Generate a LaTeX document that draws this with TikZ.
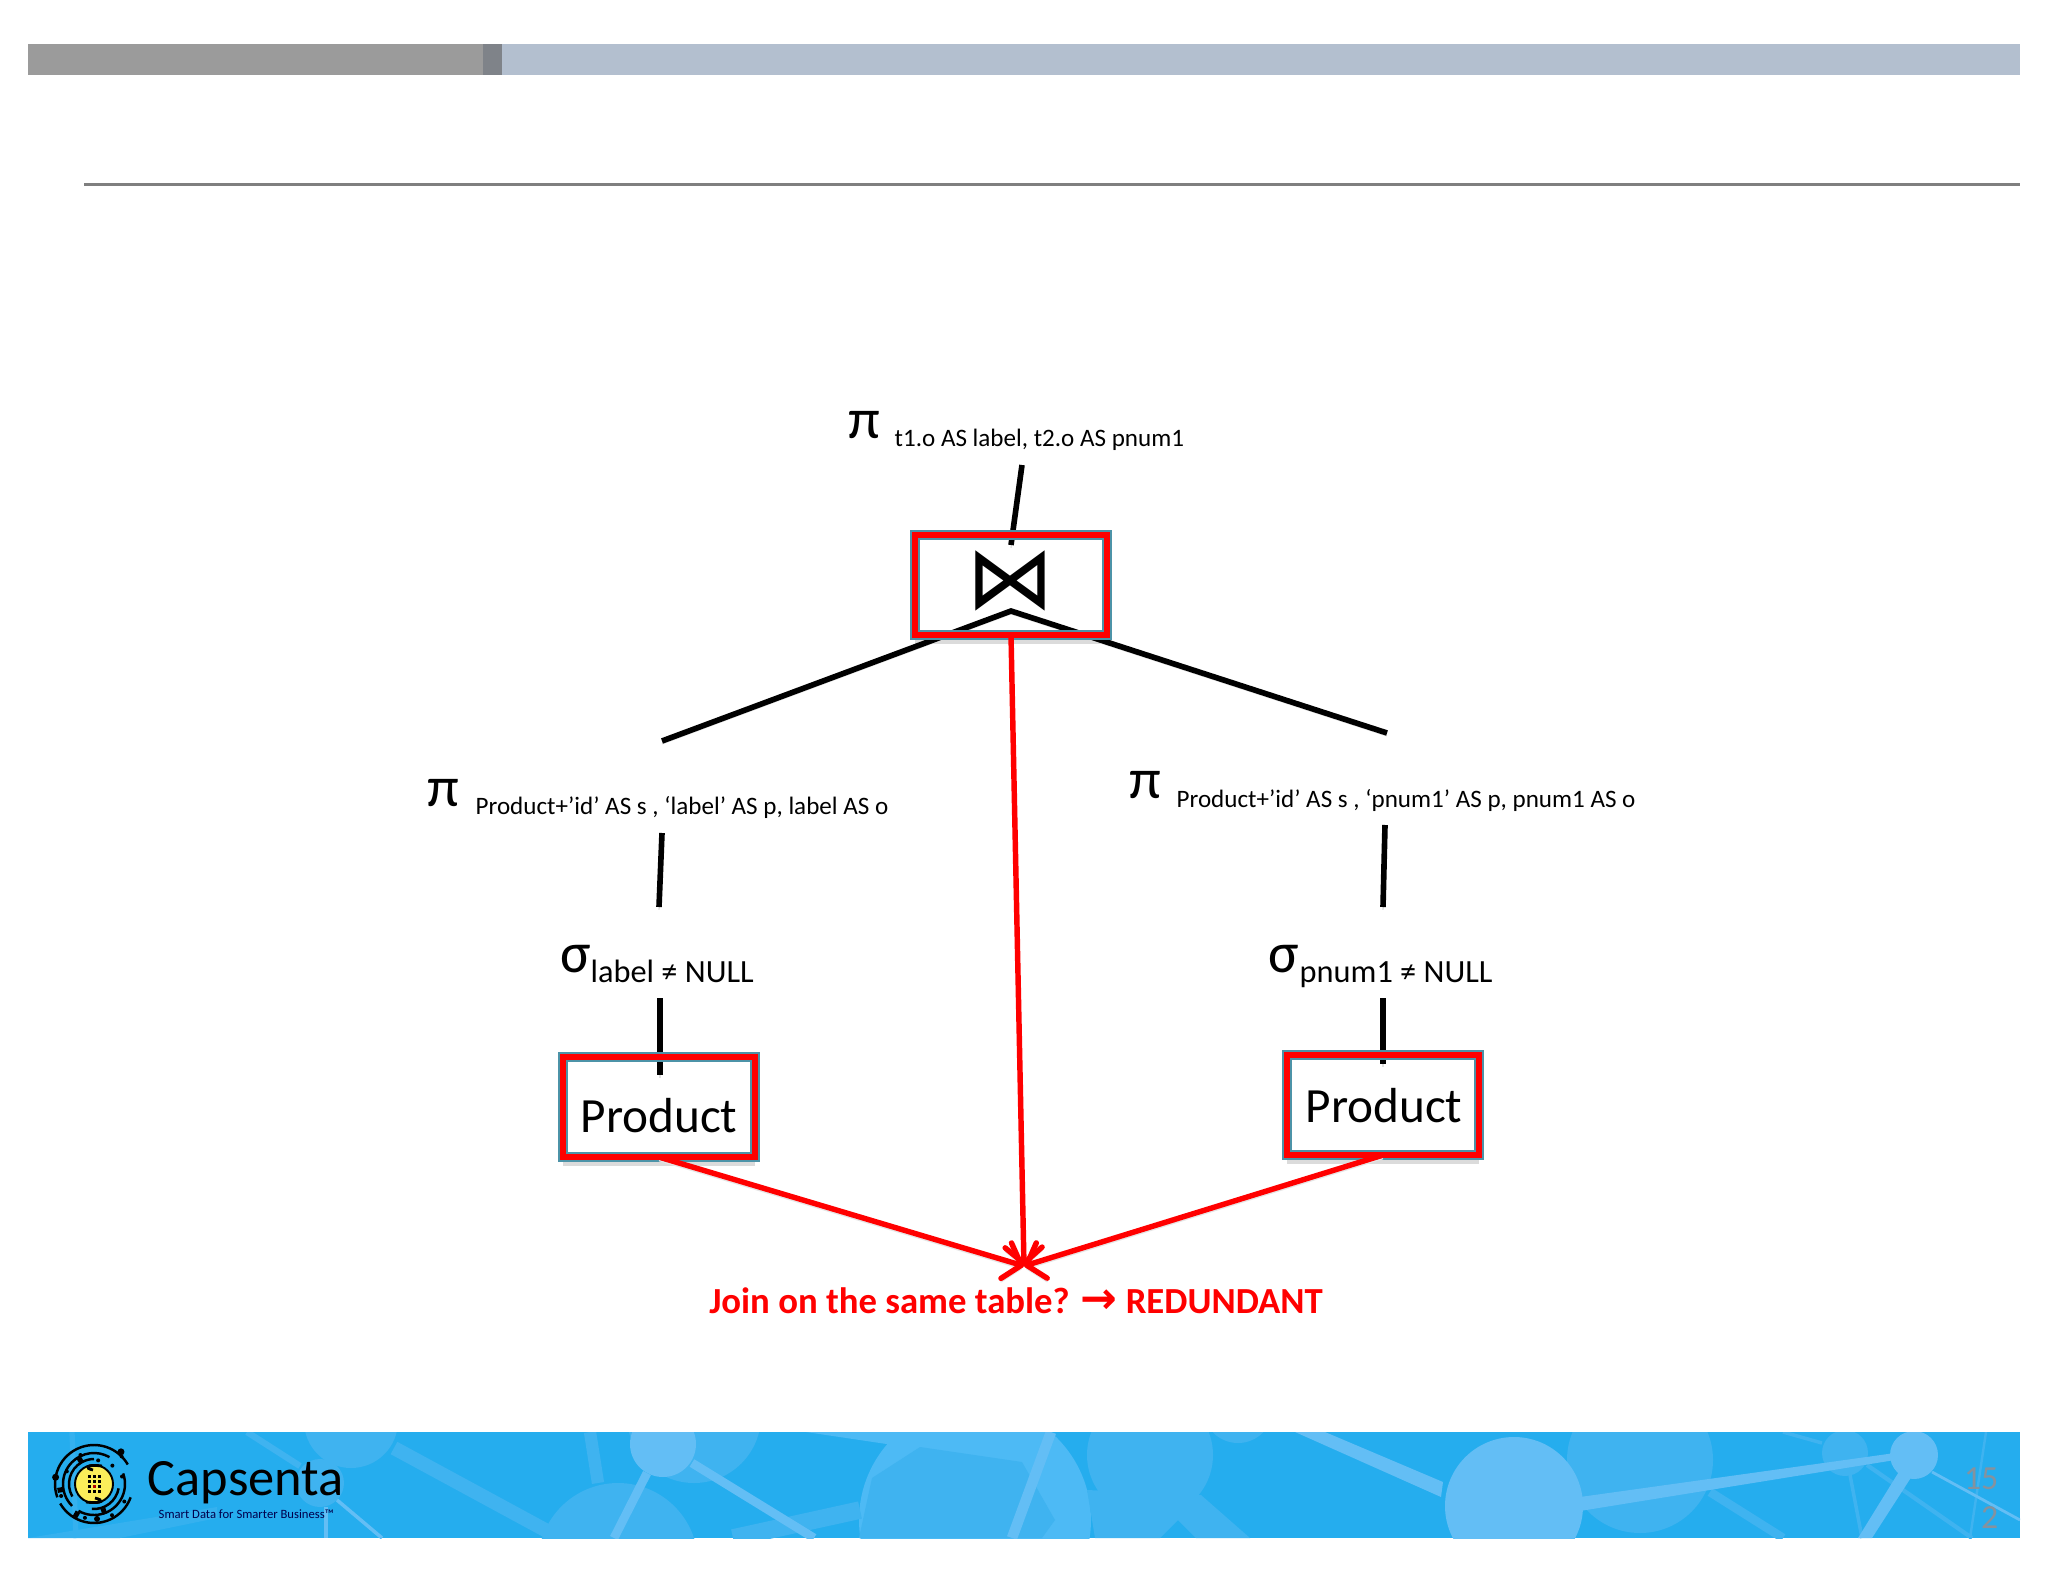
\documentclass[tikz,border=0pt]{standalone}
\usepackage{fontspec}
\setmainfont{Carlito}
\newfontfamily\symfont{DejaVu Sans}
\usetikzlibrary{arrows.meta,shadows}
\definecolor{barGrey}{HTML}{9B9B9B}
\definecolor{barDark}{HTML}{7F8389}
\definecolor{barBlue}{HTML}{B3BFCF}
\definecolor{ruleGrey}{HTML}{7F7F7F}
\definecolor{frameTeal}{HTML}{4C93A8}
\definecolor{footBase}{HTML}{25ADEE}
\definecolor{footMid}{HTML}{3FB3F0}
\definecolor{footSoft}{HTML}{4DBAF5}
\definecolor{footLight}{HTML}{63BEF5}
\definecolor{pageGrey}{HTML}{85929E}
\definecolor{logoYellow}{HTML}{FBEE5A}
\tikzstyle{boxbase} = [fill=white, minimum width=1.92cm, minimum height=1cm, outer sep=0pt, inner sep=0pt, drop shadow={shadow xshift=0pt, shadow yshift=-2.5pt, opacity=0.28}]
\tikzstyle{boxframe} = [draw=frameTeal, double=red, double distance=1.6pt, line width=0.7pt, minimum width=1.92cm, minimum height=1cm, outer sep=0pt, inner sep=0pt]
\tikzstyle{edge} = [line width=1.6pt, preaction={draw=black!12, transform canvas={yshift=-0.8pt}}]
\tikzstyle{rededge} = [red, line width=1.55pt, line cap=round, -{Straight Barb[length=4.5pt, width=10.5pt, round]}, preaction={draw=black!10, transform canvas={yshift=-1pt}}]
\tikzstyle{opsym} = [anchor=base west, inner sep=0pt, font=\fontsize{16.3}{18}\selectfont]
\tikzstyle{projsub} = [anchor=base west, inner sep=0pt, font=\fontsize{7.13}{9}\selectfont]
\tikzstyle{selsub} = [anchor=base west, inner sep=0pt, font=\fontsize{9.2}{11}\selectfont]
\tikzstyle{prodtext} = [anchor=base, inner sep=0pt, font=\fontsize{14}{16}\selectfont]

\begin{document}
\begin{tikzpicture}[x=0.01cm,y=-0.01cm]
	\useasboundingbox (0,0) rectangle (2048,1582);
	\fill[white] (0,0) rectangle (2048,1582);
	% top bar
	\fill[barGrey] (28,44) rectangle (483,75);
	\fill[barDark] (483,44) rectangle (502,75);
	\fill[barBlue] (502,44) rectangle (2020,75);
	\fill[ruleGrey] (84,183) rectangle (2020,186);
	% footer
	\begin{scope}
		\clip (28,1432) rectangle (2020,1538);
		\fill[footBase] (28,1432) rectangle (2020,1538);
		\draw[footMid!60!footBase,line width=1.5pt] (72,1432) -- (76,1538);
		\fill[footMid!60!footBase] (28,1538) -- (217,1507) -- (217,1518) -- (120,1538) -- cycle;
		\fill[footSoft] (975,1520) circle (116);
		\fill[footSoft] (806,1432) -- (900,1432) -- (900,1446) -- cycle;
		\fill[footMid] (859,1538) -- (872,1478) -- (920,1447) -- (1022,1462) -- (1055,1520) -- (1042,1538) -- cycle;
		\foreach \cx/\cy/\rad in {351/1421/47,320/1483/24,618/1563/80,694/1416/67,1150/1455/63,1238/1408/35,1640/1460/73,1845/1453/23}
			\fill[footMid] (\cx,\cy) circle (\rad);
		\fill[footMid] (1087,1490) -- (1095,1538) -- (1160,1538) -- (1178,1520) -- (1196,1538) -- (1250,1538) -- (1201,1495) -- cycle;
		\foreach \ax/\ay/\bx/\by/\wd in {247/1432/300/1466/1.8,394/1448/560/1538/4,590/1432/598/1483/3.5,733/1538/860/1510/5,1710/1492/1783/1538/2.5,1867/1465/1972/1538/1.2,1850/1475/1862/1538/1,1986/1432/1970/1538/0.7,1783/1432/1822/1443/1}
			\draw[footMid,line width=\wd pt] (\ax,\ay) -- (\bx,\by);
		\foreach \cx/\cy/\rad in {663/1444/33,1514/1506/69,1914/1455/24}
			\fill[footLight] (\cx,\cy) circle (\rad);
		\foreach \ax/\ay/\bx/\by/\wd in {337/1500/382/1538/1,326/1507/326/1538/1,647/1473/614/1538/2.5,692/1463/814/1538/2.5,1051/1432/1012/1538/3,1932/1472/2020/1520/0.8}
			\draw[footLight,line width=\wd pt] (\ax,\ay) -- (\bx,\by);
		\fill[footLight] (1295,1432) -- (1325,1432) -- (1443,1482) -- (1441,1497) -- cycle;
		\fill[footLight] (1580,1497) -- (1895,1453) -- (1895,1460) -- (1580,1511) -- cycle;
		\fill[footLight] (1900,1470) -- (1912,1476) -- (1872,1538) -- (1858,1538) -- cycle;
	\end{scope}
	% logo
	\begin{scope}[shift={(94,1484)}]
		\draw[line width=0.7pt] (20:39) arc (20:150:39);
		\draw[line width=0.7pt] (160:39) arc (160:330:39);
		\draw[line width=0.7pt] (-20:31) arc (-20:120:31);
		\draw[line width=0.7pt] (135:31) arc (135:300:31);
		\draw[line width=0.7pt] (10:25) arc (10:95:25);
		\draw[line width=0.7pt] (150:25) arc (150:270:25);
		\foreach \ang/\rad in {60/36,105/35,160/35,30/35,205/30,315/39,345/29,245/32,280/24,-45/26}
			\fill (\ang:\rad) circle (2);
		\foreach \ang/\rad in {120/27,190/34,-70/29,-120/35}
			\fill[rotate=\ang] (\rad-3,-2.5) rectangle (\rad+3,2.5);
		\fill (-50:42) circle (3.5);
		\fill (190:39) circle (3.5);
		\fill (85:35) circle (3);
		\draw[fill=logoYellow,line width=0.55pt] (0,0) circle (19);
		\draw[line width=0.8pt] (-1,-14) .. controls (-10,-16) and (-8,-20) .. (8,-18);
		\draw[line width=0.8pt] (1,14) .. controls (10,16) and (10,20) .. (-8,18);
		\foreach \i in {-1,0,1}
			\foreach \j in {-1.5,-0.5,0.5,1.5}
				\fill (\i*5-1.5,\j*5-1.5) rectangle (\i*5+1.5,\j*5+1.5);
		\fill[red!70!black] (-1.5,1) rectangle (1.5,4);
	\end{scope}
	\node[anchor=base west,inner sep=0pt,font=\fontsize{14.9}{17}\selectfont] (brand) at (147,1495) {Capsenta};
	\node[anchor=base west,inner sep=0pt,text=blue!30!black,font=\fontsize{3.6}{5}\selectfont] (tagline) at (158,1518) {Smart Data for Smarter Business™};
	\node[anchor=north east,inner sep=0pt,align=right,text=pageGrey,font=\fontsize{9.6}{11.2}\selectfont] (pagenum) at (1999,1467) {15\\2};

	\coordinate (topOut) at (1022,465);
	\coordinate (topIn) at (1011,545);
	\coordinate (joinApex) at (1011,611);
	\coordinate (leftOut) at (662,741);
	\coordinate (rightOut) at (1387,733);
	\coordinate (leftUpA) at (662,833);
	\coordinate (leftUpB) at (659,907);
	\coordinate (rightUpA) at (1385,825);
	\coordinate (rightUpB) at (1383,907);
	\coordinate (leftDownA) at (660,998);
	\coordinate (leftDownB) at (660,1075);
	\coordinate (rightDownA) at (1383,998);
	\coordinate (rightDownB) at (1383,1064);
	\coordinate (arrowMeet) at (1024,1266);

	\node[boxbase] (joinBase) at (1011,585) {};
	\node[boxbase] (prodLeftBase) at (659,1107) {};
	\node[boxbase] (prodRightBase) at (1383,1105) {};

	\draw[edge] (topOut) -- (topIn);
	\draw[edge] (leftOut) -- (joinApex) -- (rightOut);
	\draw[edge] (leftUpA) -- (leftUpB);
	\draw[edge] (rightUpA) -- (rightUpB);
	\draw[edge] (leftDownA) -- (leftDownB);
	\draw[edge] (rightDownA) -- (rightDownB);

	\node[boxframe] (joinBox) at (1011,585) {};
	\node[boxframe] (prodLeft) at (659,1107) {};
	\node[boxframe] (prodRight) at (1383,1105) {};

	\node[inner sep=0pt,font=\symfont\fontsize{25}{27}\selectfont] (joinSym) at (1010,581) {⋈};
	\node[prodtext] (prodLeftText) at (659,1132) {Product};
	\node[prodtext] (prodRightText) at (1384,1122) {Product};

	\draw[rededge] (joinBox.south) -- (arrowMeet);
	\draw[rededge] (prodLeft.south) -- (arrowMeet);
	\draw[rededge] (prodRight.south) -- (arrowMeet);

	\node[opsym] (projTop) at (848,438) {π};
	\node[projsub] (projTopSub) at (894,446) {t1.o AS label, t2.o AS pnum1};
	\node[opsym] (projLeft) at (427,806) {π};
	\node[projsub] (projLeftSub) at (475,814) {Product+’id’ AS s , ‘label’ AS p, label AS o};
	\node[opsym] (projRight) at (1129,798) {π};
	\node[projsub] (projRightSub) at (1176,807) {Product+’id’ AS s , ‘pnum1’ AS p, pnum1 AS o};
	\node[opsym] (selLeft) at (560,972) {σ};
	\node[selsub] (selLeftSub) at (590,982) {label ≠ NULL};
	\node[opsym] (selRight) at (1268,972) {σ};
	\node[selsub] (selRightSub) at (1299,982) {pnum1 ≠ NULL};

	\node[anchor=base,inner sep=0pt,text=red,font=\bfseries\fontsize{10.45}{12}\selectfont] (verdict) at (1016,1313) {Join on the same table? {\symfont\fontsize{12.5}{12}\selectfont →} REDUNDANT};
\end{tikzpicture}
\end{document}
